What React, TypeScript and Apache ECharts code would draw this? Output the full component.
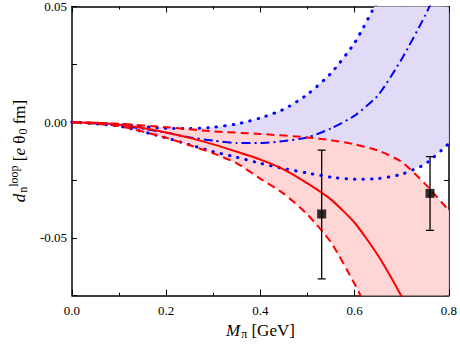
import React, { useEffect, useRef } from "react";
import * as echarts from "echarts";

// Red central curve (solid)
const redMidX = [0, 0.05, 0.1, 0.15, 0.2, 0.25, 0.3, 0.35, 0.4, 0.45, 0.5, 0.55, 0.6, 0.65, 0.7, 0.72];
const redMidY = [0, -0.0003, -0.0011, -0.0025, -0.0045, -0.0068, -0.0096, -0.0128, -0.0162, -0.0205, -0.0265, -0.0335, -0.0435, -0.0578, -0.0755, -0.084];
// Red upper dashed
const redUpX = [0, 0.1, 0.2, 0.3, 0.4, 0.5, 0.55, 0.6, 0.65, 0.7, 0.75, 0.8];
const redUpY = [0, -0.0007, -0.0022, -0.004, -0.0051, -0.0066, -0.0078, -0.0096, -0.0123, -0.0172, -0.0268, -0.0382];
// Red lower dashed
const redLoX = [0, 0.1, 0.2, 0.25, 0.3, 0.35, 0.4, 0.45, 0.5, 0.55, 0.6, 0.62];
const redLoY = [0, -0.0017, -0.0068, -0.01, -0.0135, -0.0178, -0.0245, -0.031, -0.04, -0.052, -0.07, -0.078];
// Blue upper dotted
const blueUpX = [0, 0.1, 0.2, 0.25, 0.3, 0.35, 0.4, 0.45, 0.5, 0.55, 0.6, 0.65, 0.66];
const blueUpY = [0, -0.001, -0.0027, -0.0028, -0.0022, -0.0008, 0.0018, 0.0056, 0.012, 0.0212, 0.0343, 0.053, 0.057];
// Blue lower dotted
const blueLoX = [0, 0.1, 0.2, 0.25, 0.3, 0.35, 0.4, 0.45, 0.5, 0.55, 0.6, 0.65, 0.7, 0.75, 0.8];
const blueLoY = [0, -0.0017, -0.0068, -0.0098, -0.0128, -0.0152, -0.0178, -0.0201, -0.022, -0.0238, -0.0247, -0.0244, -0.0225, -0.0181, -0.0092];
// Blue central (dash-dot)
const blueMidX = [0, 0.1, 0.2, 0.25, 0.3, 0.35, 0.4, 0.45, 0.5, 0.55, 0.6, 0.65, 0.7, 0.75, 0.77];
const blueMidY = [0, -0.0013, -0.0046, -0.0066, -0.008, -0.009, -0.009, -0.0082, -0.0066, -0.0027, 0.0028, 0.0117, 0.0273, 0.0462, 0.055];
// Data points with error bars
const ptX = [0.53, 0.76];
const ptY = [-0.0397, -0.0308];
const ptLo = [-0.0678, -0.0468];
const ptHi = [-0.0121, -0.0149];

const xTicks = { min: 0, max: 0.8, interval: 0.2 };
const yTicks = { min: -0.075, max: 0.05, interval: 0.025 };

const zip = (xs: number[], ys: number[]) => xs.map((x, i) => [x, ys[i]]);

const FONT = "Liberation Serif";

export default function App() {
  const ref = useRef<HTMLDivElement>(null);
  useEffect(() => {
    if (!ref.current) return;
    const chart = echarts.init(ref.current, null, { renderer: "svg" });

    const bluePoly = [
      ...zip(blueUpX, blueUpY),
      [0.8, 0.06],
      ...zip(blueLoX, blueLoY).reverse(),
    ];
    const redPoly = [
      ...zip(redUpX, redUpY),
      [0.8, -0.09],
      ...zip(redLoX, redLoY).reverse(),
    ];

    const polySeries = (pts: number[][], fill: string) => ({
      type: "custom",
      clip: true,
      silent: true,
      data: [[0, 0]],
      renderItem: (params: any, api: any) => ({
        type: "polygon",
        shape: { points: pts.map((p) => api.coord(p)) },
        style: { fill, stroke: "none" },
      }),
      z: 1,
    });

    const lineSeries = (xs: number[], ys: number[], color: string, type: any, width: number, cap = "butt") => ({
      type: "line",
      data: zip(xs, ys),
      showSymbol: false,
      symbol: "none",
      smooth: 0.2,
      clip: true,
      lineStyle: { color, width, type, cap },
      z: 3,
    });

    const axisCommon = {
      axisLine: { show: true, onZero: false, lineStyle: { color: "#000", width: 1.5 } },
      splitLine: { show: false },
    };

    chart.setOption({
      animation: false,
      grid: { left: 65, right: 10, top: 5, bottom: 47 },
      xAxis: [
        {
          type: "value",
          ...xTicks,
          ...axisCommon,
          axisTick: { show: true, inside: true, length: 6, lineStyle: { color: "#000", width: 1 } },
          minorTick: { show: true, splitNumber: 2, length: 3, lineStyle: { color: "#000", width: 1 } },
          axisLabel: {
            show: true,
            margin: 8,
            color: "#000",
            fontFamily: FONT,
            fontSize: 13,
            formatter: (v: number) => v.toFixed(1),
          },
          name: "{i|M}{sub|π} [GeV]",
          nameLocation: "middle",
          nameGap: 22,
          nameTextStyle: {
            color: "#000",
            fontFamily: FONT,
            fontSize: 17,
            rich: {
              i: { fontStyle: "italic", fontFamily: FONT, fontSize: 17, color: "#000" },
              sub: { fontFamily: FONT, fontSize: 12, color: "#000", padding: [8, 0, 0, 1] },
            },
          },
        },
        {
          type: "value",
          position: "top",
          ...xTicks,
          ...axisCommon,
          axisTick: { show: true, inside: true, length: 6, lineStyle: { color: "#000", width: 1 } },
          minorTick: { show: true, splitNumber: 2, length: 3, lineStyle: { color: "#000", width: 1 } },
          axisLabel: { show: false },
        },
      ],
      yAxis: [
        {
          type: "value",
          ...yTicks,
          ...axisCommon,
          axisTick: { show: true, inside: true, length: 5, lineStyle: { color: "#000", width: 1 } },
          axisLabel: {
            show: true,
            margin: 5,
            color: "#000",
            fontFamily: FONT,
            fontSize: 13,
            formatter: (v: number) => {
              const r = v / 0.05;
              if (Math.abs(r - Math.round(r)) > 1e-6) return "";
              return v.toFixed(2);
            },
          },
          name: "{i|d}{sub|n}{sup|loop} [{i|e} θ{sub|0} fm]",
          nameLocation: "middle",
          nameGap: 34,
          nameTextStyle: {
            color: "#000",
            fontFamily: FONT,
            fontSize: 17,
            rich: {
              i: { fontStyle: "italic", fontFamily: FONT, fontSize: 17, color: "#000" },
              sub: { fontFamily: FONT, fontSize: 12, color: "#000", padding: [8, 0, 0, 1] },
              sup: { fontFamily: FONT, fontSize: 12, color: "#000", padding: [0, 0, 10, 0] },
            },
          },
        },
        {
          type: "value",
          position: "right",
          ...yTicks,
          ...axisCommon,
          axisTick: { show: true, inside: true, length: 5, lineStyle: { color: "#000", width: 1 } },
          axisLabel: { show: false },
        },
      ],
      series: [
        polySeries(bluePoly, "#e2dbf8"),
        polySeries(redPoly, "#ffd6d6"),
        lineSeries(blueUpX, blueUpY, "#0000ff", [0.5, 8], 3, "round"),
        lineSeries(blueLoX, blueLoY, "#0000ff", [0.5, 8], 3, "round"),
        lineSeries(blueMidX, blueMidY, "#0000ff", [9, 4, 2, 4], 2),
        lineSeries(redUpX, redUpY, "#ff0000", [8, 5], 2),
        lineSeries(redLoX, redLoY, "#ff0000", [8, 5], 2),
        lineSeries(redMidX, redMidY, "#ff0000", "solid", 2),
        {
          type: "custom",
          clip: true,
          data: ptX.map((x, i) => [x, ptY[i], ptLo[i], ptHi[i]]),
          encode: { x: 0, y: [1, 2, 3] },
          renderItem: (params: any, api: any) => {
            const x = api.value(0);
            const lo = api.coord([x, api.value(2)]);
            const hi = api.coord([x, api.value(3)]);
            const cw = 4;
            const st = { stroke: "#000", lineWidth: 1.3 };
            return {
              type: "group",
              children: [
                { type: "line", shape: { x1: lo[0], y1: lo[1], x2: hi[0], y2: hi[1] }, style: st },
                { type: "line", shape: { x1: lo[0] - cw, y1: lo[1], x2: lo[0] + cw, y2: lo[1] }, style: st },
                { type: "line", shape: { x1: hi[0] - cw, y1: hi[1], x2: hi[0] + cw, y2: hi[1] }, style: st },
              ],
            };
          },
          z: 4,
        },
        {
          type: "scatter",
          data: zip(ptX, ptY),
          symbol: "rect",
          symbolSize: 9,
          itemStyle: { color: "#000" },
          z: 5,
        },
      ],
    });
    return () => chart.dispose();
  }, []);
  return <div ref={ref} style={{ width: 460, height: 345, position: "absolute", left: 0, top: 0 }} />;
}
